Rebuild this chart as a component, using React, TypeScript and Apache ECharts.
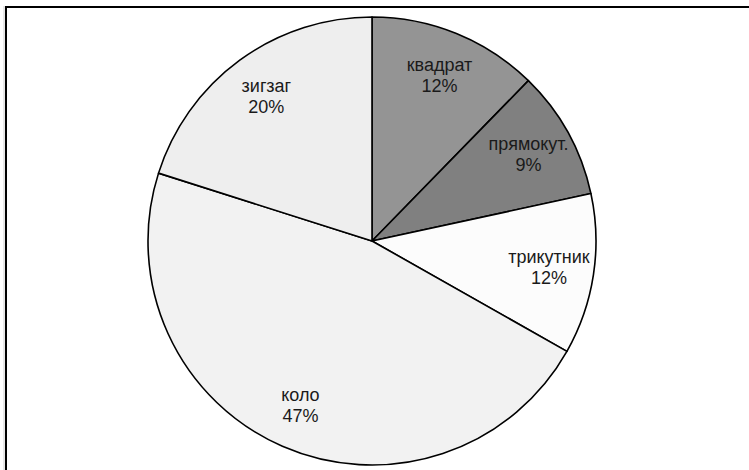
import React, { useEffect, useRef } from "react";
import * as echarts from "echarts";

const categories = ["квадрат", "прямокут.", "трикутник", "коло", "зигзаг"];
const values = [12.3, 9.3, 11.6, 46.7, 20.1];
const colors = ["#949494", "#808080", "#fcfcfc", "#f2f2f2", "#eeeeee"];

export default function App() {
  const ref = useRef<HTMLDivElement>(null);
  useEffect(() => {
    if (!ref.current) return;
    const chart = echarts.init(ref.current, null, { renderer: "svg" });
    const data = categories.map((name, i) => ({
      name,
      value: values[i],
      itemStyle: { color: colors[i] },
    }));
    chart.setOption({
      animation: false,
      backgroundColor: "#ffffff",
      graphic: [
        {
          type: "line",
          shape: { x1: 4, y1: 6, x2: 4, y2: 480 },
          style: { stroke: "#d0d0d0", lineWidth: 1 },
          silent: true,
        },
        {
          type: "rect",
          shape: { x: 6, y: 7, width: 780, height: 500 },
          style: { fill: "none", stroke: "#000000", lineWidth: 2 },
          silent: true,
        },
      ],
      series: [
        {
          type: "pie",
          center: [372, 241],
          radius: [0, 224],
          startAngle: 90,
          clockwise: true,
          silent: true,
          label: { show: false },
          labelLine: { show: false },
          itemStyle: { borderColor: "#000000", borderWidth: 1.6 },
          data,
        },
        {
          type: "pie",
          center: [372, 241],
          radius: [128, 224],
          startAngle: 90,
          clockwise: true,
          silent: true,
          itemStyle: { color: "rgba(0,0,0,0)", borderWidth: 0 },
          label: {
            show: true,
            position: "inside",
            fontFamily: "Liberation Sans, Arial, sans-serif",
            fontSize: 18,
            lineHeight: 21,
            color: "#1a1a1a",
            align: "center",
            formatter: (p: any) => `${p.name}\n${Math.round(p.percent)}%`,
          },
          labelLine: { show: false },
          data: categories.map((name, i) => ({ name, value: values[i] })),
        },
      ],
    });
    return () => chart.dispose();
  }, []);
  return (
    <div
      ref={ref}
      style={{ position: "fixed", left: 0, top: 0, width: 749, height: 470 }}
    />
  );
}
